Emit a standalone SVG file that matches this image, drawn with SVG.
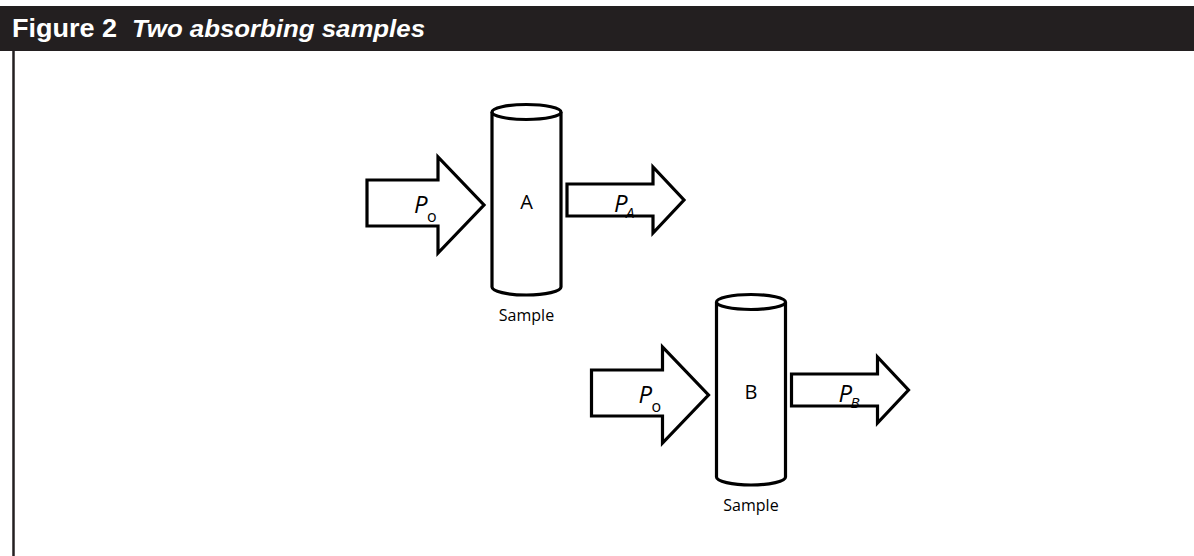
<svg xmlns="http://www.w3.org/2000/svg" width="1194" height="556" viewBox="0 0 1194 556">
  <style>
    .shape { fill: #ffffff; stroke: #000000; stroke-width: 3.2; stroke-linejoin: miter; }
    .lbl { font-family: "Open Sans", "DejaVu Sans", sans-serif; fill: #000000; }
    .hdr { font-family: "Liberation Sans", Arial, sans-serif; fill: #ffffff; font-weight: bold; }
  </style>
  <rect x="0" y="0" width="1194" height="556" fill="#ffffff"/>
  <g id="header">
    <rect x="0" y="6" width="1194" height="45" fill="#231f20"/>
    <text class="hdr" x="12" y="37" font-size="25" textLength="105" lengthAdjust="spacingAndGlyphs">Figure 2</text>
    <text class="hdr" x="132" y="37" font-size="24" font-style="italic" textLength="293" lengthAdjust="spacingAndGlyphs">Two absorbing samples</text>
  </g>
  <line id="frame-left" x1="13.5" y1="51" x2="13.5" y2="556" stroke="#231f20" stroke-width="2.5"/>

  <g id="sampleA">
    <g id="arrow-Po-A">
      <polygon class="shape" points="367,180 438,180 438,157 484,205 438,253 438,226 367,226"/>
      <text class="lbl" x="414" y="213" font-size="24" font-style="italic">P</text>
      <text class="lbl" x="427" y="222" font-size="16">o</text>
    </g>
    <g id="cylinder-A">
      <path class="shape" d="M492,112 L492,287 A34.5,8 0 0 0 561,287 L561,112"/>
      <ellipse class="shape" cx="526.5" cy="112" rx="34.5" ry="7.5"/>
      <text class="lbl" x="526.5" y="209" font-size="20" text-anchor="middle">A</text>
      <text class="lbl" x="526.5" y="321" font-size="16" text-anchor="middle">Sample</text>
    </g>
    <g id="arrow-PA">
      <polygon class="shape" points="567,184 653,184 653,167 684,200 653,233 653,216 567,216"/>
      <text class="lbl" x="614" y="212" font-size="24" font-style="italic">P</text>
      <text class="lbl" x="626" y="218" font-size="15" font-style="italic">A</text>
    </g>
  </g>

  <g id="sampleB" transform="translate(224.5,190)">
    <g id="arrow-Po-B">
      <polygon class="shape" points="367,180 438,180 438,157 484,205 438,253 438,226 367,226"/>
      <text class="lbl" x="414" y="213" font-size="24" font-style="italic">P</text>
      <text class="lbl" x="427" y="222" font-size="16">o</text>
    </g>
    <g id="cylinder-B">
      <path class="shape" d="M492,112 L492,287 A34.5,8 0 0 0 561,287 L561,112"/>
      <ellipse class="shape" cx="526.5" cy="112" rx="34.5" ry="7.5"/>
      <text class="lbl" x="526.5" y="209" font-size="20" text-anchor="middle">B</text>
      <text class="lbl" x="526.5" y="321" font-size="16" text-anchor="middle">Sample</text>
    </g>
    <g id="arrow-PB">
      <polygon class="shape" points="567,184 653,184 653,167 684,200 653,233 653,216 567,216"/>
      <text class="lbl" x="614" y="212" font-size="24" font-style="italic">P</text>
      <text class="lbl" x="626" y="218" font-size="15" font-style="italic">B</text>
    </g>
  </g>
</svg>
